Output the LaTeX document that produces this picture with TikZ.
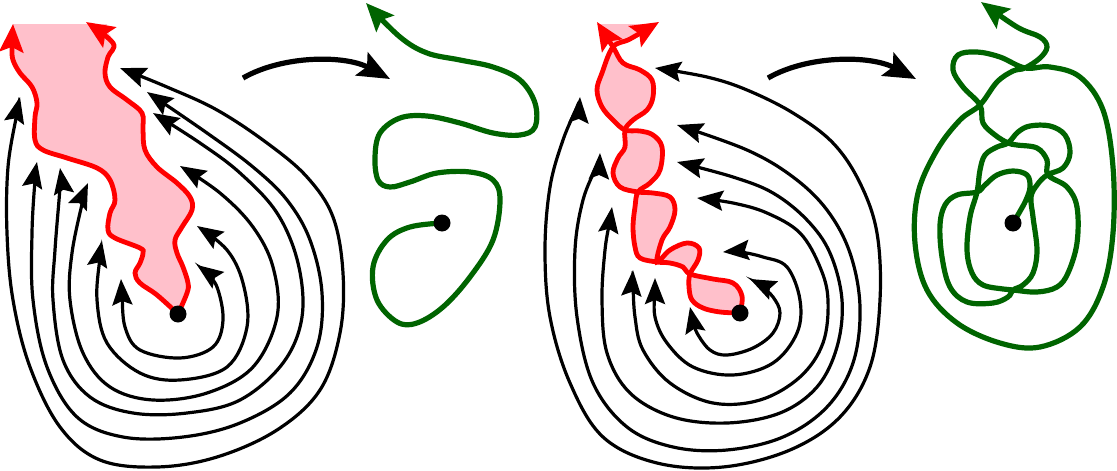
\documentclass[tikz,border=0pt]{standalone}
\usepackage{xcolor}
\usepackage{tikz}
\usetikzlibrary{arrows.meta}
\definecolor{walkred}{RGB}{255,0,0}
\definecolor{walkpink}{RGB}{255,192,203}
\definecolor{driftgreen}{RGB}{0,100,0}

\begin{document}
\begin{tikzpicture}[x=1pt, y=-1pt, >={Stealth[length=26pt,width=20pt,inset=4pt]}, flow/.style={<->, line width=3.2pt}, walk/.style={-{Stealth[length=28pt,width=24pt,inset=5pt]}, draw=walkred, line width=4.8pt}, drift/.style={-{Stealth[length=28pt,width=24pt,inset=5pt]}, draw=driftgreen, line width=5.2pt}, patch/.style={fill=walkpink}, endpt/.style={circle, fill=black, inner sep=0pt, minimum size=17pt}, jump/.style={-{Stealth[length=32pt,width=26pt,inset=6pt]}, line width=5.2pt}]
\useasboundingbox (0,0) rectangle (1117,471);

% shaded bands
\fill[patch] plot[smooth, tension=0.6] coordinates {(178,314) (157,295) (140,283) (135,273) (140,263) (143,253) (140,248) (115,238) (108,230) (110,213) (115,200) (110,180) (97,168) (67,158) (43,150) (35,140) (35,117) (37,103) (32,87) (20,73) (13,60) (12,47) (13,24)} -- (107,24) -- plot[smooth, tension=0.6] coordinates {(108,32) (113,43) (108,57) (105,73) (110,87) (127,100) (142,113) (143,130) (145,150) (157,167) (177,183) (190,197) (192,210) (182,227) (175,240) (177,253) (183,267) (188,283) (187,293) (178,314)} -- cycle;
\fill[patch] plot[smooth, tension=0.6] coordinates {(740,313) (742,296) (733,283) (713,279) (690,274) (683,267) (670,263) (657,262) (640,258) (635,247) (633,227) (635,207) (638,192) (650,183) (660,170) (662,147) (653,135) (640,131) (625,130) (613,120) (602,107) (597,90) (602,73) (613,47) (627,40) (640,35) (657,23)} -- (655,24) -- (597,24) -- plot[smooth, tension=0.6] coordinates {(608,37) (613,47) (623,63) (640,70) (652,80) (653,97) (647,110) (633,120) (625,130) (625,147) (618,158) (613,173) (620,187) (638,192) (653,193) (670,197) (675,210) (670,227) (662,240) (657,262) (670,250) (687,243) (699,248) (698,260) (690,274) (689,287) (692,300) (703,308) (720,312) (740,313)} -- cycle;

% flow lines, left basin
\draw[flow] plot[smooth, tension=0.6] coordinates {(121,279) (122,293) (125,327) (140,350) (180,358) (213,347) (223,320) (217,287) (205,272) (197,265)};
\draw[flow] plot[smooth, tension=0.6] coordinates {(102,241) (100,257) (97,300) (107,343) (140,373) (180,380) (227,367) (247,327) (243,283) (227,250) (197,226)};
\draw[flow] plot[smooth, tension=0.6] coordinates {(88,183) (83,200) (72,253) (70,300) (83,353) (110,387) (153,400) (207,393) (253,367) (277,317) (273,267) (253,227) (220,193) (180,166)};
\draw[flow] plot[smooth, tension=0.6] coordinates {(60,168) (60,187) (55,250) (53,300) (63,360) (90,397) (133,413) (187,413) (240,400) (283,363) (302,317) (298,263) (277,213) (240,173) (200,143) (153,113)};
\draw[flow] plot[smooth, tension=0.6] coordinates {(37,162) (35,180) (32,233) (33,300) (47,367) (77,417) (123,437) (183,437) (240,423) (290,393) (317,347) (322,293) (310,240) (287,200) (253,167) (207,133) (147,92)};
\draw[flow] plot[smooth, tension=0.6] coordinates {(20,97) (17,113) (8,167) (7,233) (13,300) (30,367) (60,427) (100,460) (157,467) (217,457) (277,430) (320,390) (340,333) (343,273) (333,217) (307,177) (267,143) (217,110) (167,87) (120,68)};

% flow lines, right basin
\draw[flow] plot[smooth, tension=0.6] coordinates {(690,307) (693,320) (697,333) (710,350) (727,355) (753,348) (773,333) (780,313) (773,297) (760,285) (750,279)};
\draw[flow] plot[smooth, tension=0.6] coordinates {(655,278) (655,290) (655,317) (667,343) (693,367) (733,375) (773,363) (797,333) (800,300) (787,267) (763,257) (740,252) (723,252)};
\draw[flow] plot[smooth, tension=0.6] coordinates {(633,270) (633,283) (635,317) (643,350) (670,383) (713,403) (760,400) (800,377) (823,343) (828,300) (820,267) (800,233) (767,213) (733,203) (697,198)};
\draw[flow] plot[smooth, tension=0.6] coordinates {(612,207) (610,220) (605,250) (602,300) (607,353) (630,393) (673,417) (727,423) (780,413) (817,387) (837,347) (842,300) (830,253) (807,220) (773,193) (733,177) (677,162)};
\draw[flow] plot[smooth, tension=0.6] coordinates {(600,153) (597,165) (583,200) (575,250) (577,317) (593,383) (627,427) (673,447) (727,450) (783,437) (827,407) (853,363) (860,307) (850,253) (827,210) (793,177) (747,150) (677,125)};
\draw[flow] plot[smooth, tension=0.6] coordinates {(580,97) (577,107) (563,140) (550,187) (545,250) (550,317) (570,383) (603,437) (657,463) (723,467) (790,450) (840,417) (870,367) (880,300) (877,233) (860,183) (833,143) (793,113) (747,90) (707,77) (655,68)};

% red walks
\draw[walk] plot[smooth, tension=0.6] coordinates {(178,314) (157,295) (140,283) (135,273) (140,263) (143,253) (140,248) (115,238) (108,230) (110,213) (115,200) (110,180) (97,168) (67,158) (43,150) (35,140) (35,117) (37,103) (32,87) (20,73) (13,60) (12,47) (13,24)};
\draw[walk] plot[smooth, tension=0.6] coordinates {(178,314) (187,293) (188,283) (183,267) (177,253) (175,240) (182,227) (192,210) (190,197) (177,183) (157,167) (145,150) (143,130) (142,113) (127,100) (110,87) (105,73) (108,57) (113,43) (86,22)};
\draw[walk] plot[smooth, tension=0.6] coordinates {(740,313) (720,312) (703,308) (692,300) (689,287) (690,274) (698,260) (699,248) (687,243) (670,250) (657,262) (662,240) (670,227) (675,210) (670,197) (653,193) (638,192) (620,187) (613,173) (618,158) (625,147) (625,130) (633,120) (647,110) (653,97) (652,80) (640,70) (623,63) (613,47) (597,22)};
\draw[walk] plot[smooth, tension=0.6] coordinates {(740,313) (742,296) (733,283) (713,279) (690,274) (683,267) (670,263) (657,262) (640,258) (635,247) (633,227) (635,207) (638,192) (650,183) (660,170) (662,147) (653,135) (640,131) (625,130) (613,120) (602,107) (597,90) (602,73) (613,47) (630,39) (659,22)};

% green paths
\draw[drift] plot[smooth, tension=0.6] coordinates {(442,223) (410,227) (387,240) (373,267) (377,300) (397,322) (417,323) (443,307) (470,277) (493,240) (500,200) (493,180) (470,172) (437,173) (410,182) (390,187) (378,180) (375,157) (380,133) (400,118) (427,116) (460,123) (493,133) (520,135) (535,127) (535,103) (520,80) (493,67) (460,60) (427,53) (400,37) (366,3)};
\draw[drift] plot[smooth, tension=0.6] coordinates {(1013,223) (1019,213) (1026,200) (1030,187) (1027,175) (1013,171) (997,175) (985,185) (977,192) (957,195) (945,205) (940,225) (942,257) (950,287) (967,302) (993,303) (1008,297) (1013,290) (1023,285) (1033,273) (1037,250) (1033,217) (1031,197) (1037,185) (1047,175) (1063,168) (1070,153) (1065,135) (1050,126) (1030,126) (1018,132) (1008,143) (997,147) (985,155) (980,170) (977,192) (970,217) (967,250) (972,273) (983,285) (1003,289) (1013,290) (1037,292) (1057,287) (1068,273) (1077,243) (1077,207) (1067,187) (1048,175) (1047,160) (1037,148) (1017,145) (1008,143) (995,135) (983,123) (980,105) (963,87) (953,70) (958,55) (977,52) (1000,57) (1025,68) (1050,67) (1080,77) (1103,110) (1113,167) (1113,233) (1103,287) (1080,327) (1040,347) (1000,343) (957,323) (927,290) (915,243) (918,193) (937,150) (960,120) (980,105) (997,82) (1013,71) (1025,68) (1040,58) (1047,47) (1040,37) (1017,27) (981,2)};

% start points
\node[endpt] (c1) at (178,314) {};
\node[endpt] (c2) at (442,223) {};
\node[endpt] (c3) at (740,313) {};
\node[endpt] (c4) at (1013,223) {};

% arrows between panels
\coordinate (j1s) at (243,78);
\coordinate (j1e) at (390,79);
\coordinate (j2s) at (768,78);
\coordinate (j2e) at (916,79);
\draw[jump] (j1s) .. controls (283,55) and (345,55) .. (j1e);
\draw[jump] (j2s) .. controls (808,55) and (870,55) .. (j2e);
\end{tikzpicture}
\end{document}
